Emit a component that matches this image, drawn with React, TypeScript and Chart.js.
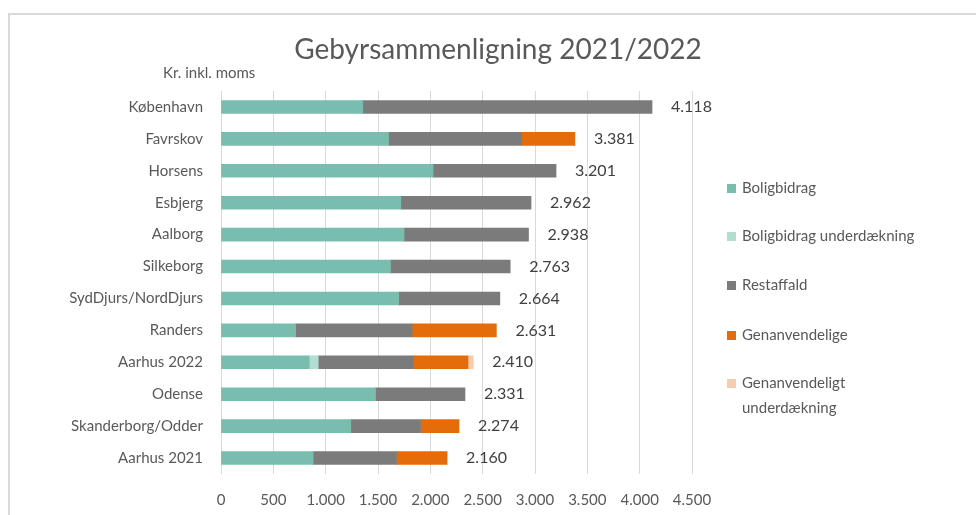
import React, { useEffect, useRef } from "react";
import { Chart, registerables } from "chart.js";

Chart.register(...registerables);

const categories = [
  "København",
  "Favrskov",
  "Horsens",
  "Esbjerg",
  "Aalborg",
  "Silkeborg",
  "SydDjurs/NordDjurs",
  "Randers",
  "Aarhus 2022",
  "Odense",
  "Skanderborg/Odder",
  "Aarhus 2021",
];
const boligbidrag = [1355, 1600, 2026, 1718, 1749, 1619, 1698, 713, 843, 1476, 1240, 881];
const boligbidragUnderdaekning = [0, 0, 0, 0, 0, 0, 0, 0, 86, 0, 0, 0];
const restaffald = [2763, 1270, 1175, 1244, 1189, 1144, 966, 1113, 906, 855, 666, 795];
const genanvendelige = [0, 511, 0, 0, 0, 0, 0, 805, 525, 0, 368, 484];
const genanvendeligtUnderdaekning = [0, 0, 0, 0, 0, 0, 0, 0, 50, 0, 0, 0];
const totals = [4118, 3381, 3201, 2962, 2938, 2763, 2664, 2631, 2410, 2331, 2274, 2160];

const seriesNames = [
  "Boligbidrag",
  "Boligbidrag underdækning",
  "Restaffald",
  "Genanvendelige",
  "Genanvendeligt underdækning",
];
const legendLines = [
  ["Boligbidrag"],
  ["Boligbidrag underdækning"],
  ["Restaffald"],
  ["Genanvendelige"],
  ["Genanvendeligt", "underdækning"],
];
const colors = ["#78BDAD", "#B2DDD1", "#7B7B7B", "#E46C0A", "#F6CBAE"];

const titleText = "Gebyrsammenligning 2021/2022";
const subtitleText = "Kr. inkl. moms";

const FONT = "Lato, 'Open Sans', sans-serif";
const TEXT = "#595959";

function fmt(n: number): string {
  const s = Math.round(n).toString();
  return s.replace(/\B(?=(\d{3})+(?!\d))/g, ".");
}

const decorPlugin = {
  id: "decor",
  beforeDraw(chart: any) {
    const ctx = chart.ctx;
    ctx.save();
    ctx.fillStyle = "#ffffff";
    ctx.fillRect(0, 0, chart.width, chart.height);
    ctx.strokeStyle = "#d9d9d9";
    ctx.lineWidth = 2;
    ctx.beginPath();
    ctx.moveTo(9, chart.height);
    ctx.lineTo(9, 14);
    ctx.lineTo(chart.width, 14);
    ctx.stroke();
    ctx.restore();
  },
  afterDraw(chart: any) {
    const ctx = chart.ctx;
    const xs = chart.scales.x;
    const ys = chart.scales.y;
    ctx.save();
    // title
    ctx.fillStyle = TEXT;
    ctx.textAlign = "center";
    ctx.textBaseline = "middle";
    ctx.font = `28px ${FONT}`;
    ctx.fillText(titleText, 498, 50);
    ctx.textAlign = "left";
    ctx.font = `15px ${FONT}`;
    ctx.fillText(subtitleText, 163, 73);
    // totals
    ctx.fillStyle = "#404040";
    ctx.font = `16px ${FONT}`;
    totals.forEach((t, i) => {
      const x = xs.getPixelForValue(t) + 19;
      const y = ys.getPixelForValue(i);
      ctx.fillText(fmt(t), x, y);
    });
    // legend
    ctx.font = `15px ${FONT}`;
    const legendY = [188, 236, 285, 335, 383];
    legendLines.forEach((lines, i) => {
      const y = legendY[i];
      ctx.fillStyle = colors[i];
      ctx.fillRect(727, y - 4, 9, 9);
      ctx.fillStyle = TEXT;
      lines.forEach((ln, j) => {
        ctx.fillText(ln, 742, y + j * 25);
      });
    });
    ctx.restore();
  },
};

export default function App() {
  const ref = useRef<HTMLCanvasElement | null>(null);
  useEffect(() => {
    if (!ref.current) return;
    const dataArrays = [
      boligbidrag,
      boligbidragUnderdaekning,
      restaffald,
      genanvendelige,
      genanvendeligtUnderdaekning,
    ];
    const chart = new Chart(ref.current, {
      type: "bar",
      data: {
        labels: categories,
        datasets: dataArrays.map((d, i) => ({
          label: seriesNames[i],
          data: d.map((v) => (v === 0 ? null : v)),
          backgroundColor: colors[i],
          borderWidth: 0,
          barThickness: 13,
        })),
      },
      options: {
        indexAxis: "y",
        responsive: false,
        animation: false,
        layout: { padding: { top: 91, right: 284, left: 0, bottom: 0 } },
        plugins: {
          legend: { display: false },
          title: { display: false },
          tooltip: { enabled: false },
        },
        scales: {
          x: {
            stacked: true,
            min: 0,
            max: 4500,
            afterFit: (s: any) => {
              s.height = 41;
            },
            ticks: {
              stepSize: 500,
              color: TEXT,
              font: { family: FONT, size: 15 },
              padding: 17,
              maxRotation: 0,
              callback: (v: any) => fmt(Number(v)),
            },
            grid: { color: "#d9d9d9", drawTicks: false, lineWidth: 1 },
            border: { display: false },
          },
          y: {
            stacked: true,
            afterFit: (s: any) => {
              s.width = 221;
            },
            ticks: {
              color: TEXT,
              font: { family: FONT, size: 15 },
              padding: 18,
            },
            grid: { display: false, drawTicks: false },
            border: { display: false },
          },
        },
      },
      plugins: [decorPlugin],
    });
    return () => chart.destroy();
  }, []);
  return (
    <div style={{ position: "absolute", left: 0, top: 0, width: 976, height: 515 }}>
      <canvas ref={ref} width={976} height={515} />
    </div>
  );
}
